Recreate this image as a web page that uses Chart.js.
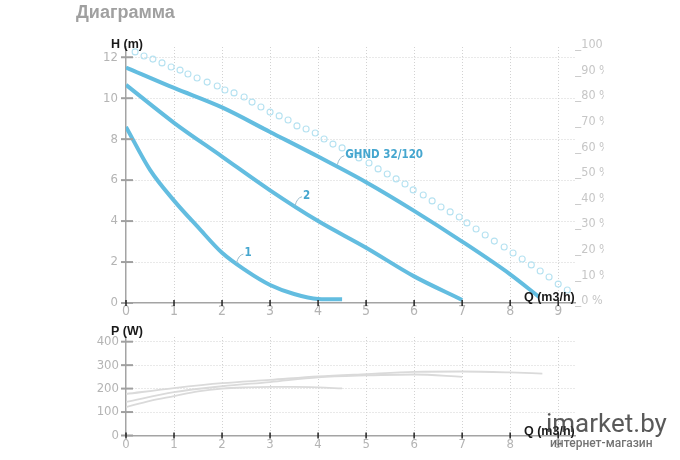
<!DOCTYPE html>
<html><head><meta charset="utf-8">
<script src="https://cdn.jsdelivr.net/npm/chart.js@4/dist/chart.umd.min.js"></script>
<style>
html,body{margin:0;padding:0;background:#fff;width:680px;height:460px;overflow:hidden;position:relative;}
#title{position:absolute;left:76px;top:2px;line-height:18px;font:bold 18px "Liberation Sans",Arial,sans-serif;color:#a0a0a0;white-space:nowrap;}
#c1{position:absolute;left:0;top:0;}
#c2{position:absolute;left:0;top:320px;}
#wm1{position:absolute;left:546px;top:408px;font:400 26px Roboto,sans-serif;color:rgba(60,60,60,0.85);white-space:nowrap;line-height:30px;}
#wm2{position:absolute;left:550px;top:436px;font:500 12px Roboto,sans-serif;color:rgba(80,80,80,0.8);white-space:nowrap;line-height:14px;}
</style></head><body>
<canvas id="c1" width="604" height="320"></canvas>
<canvas id="c2" width="604" height="140"></canvas>
<div id="title">Диаграмма</div>
<div id="wm1">imarket.by</div>
<div id="wm2">интернет-магазин</div>
<script>
// ---- data ----
const qTicks = [0,1,2,3,4,5,6,7,8,9];
const hTicks = [0,2,4,6,8,10,12];
const pctTicks = [0,10,20,30,40,50,60,70,80,90,100];
const pTicks = [0,100,200,300,400];

const flowQ3 = [0,1,2,3,4,5,6,7,8,8.6];
const head3  = [11.5,10.5,9.55,8.35,7.15,5.9,4.5,3.0,1.4,0.3];
const flowQ2 = [0,1,2,3,4,5,6,7];
const head2  = [10.65,8.8,7.15,5.5,4.0,2.7,1.3,0.15];
const flowQ1 = [0,0.5,1,1.5,2,2.5,3,3.5,4,4.5];
const head1  = [8.6,6.5,5.0,3.7,2.45,1.58,0.88,0.44,0.2,0.18];

const effQ   = [0.19,0.375,0.56,0.75,0.94,1.125,1.29,1.48,1.69,1.9,2.06,2.25,2.46,2.625,2.81,3.0,3.19,3.375,3.56,3.75,3.94,4.125,4.31,4.5,4.67,4.85,5.06,5.25,5.44,5.625,5.81,5.98,6.19,6.375,6.56,6.75,6.94,7.1,7.29,7.48,7.67,7.875,8.06,8.25,8.44,8.625,8.81,9.0,9.19];
const effPct = [97.3,95.7,94.5,93.0,91.4,90.2,88.7,87.1,85.5,84.0,82.4,81.3,79.7,77.7,75.8,73.8,72.3,70.7,68.4,67.2,65.6,63.3,61.3,59.8,57.8,55.9,53.9,51.6,49.6,47.7,45.7,43.4,41.4,39.1,36.7,34.8,32.8,30.5,28.1,25.8,23.4,21.1,18.75,16.4,14.1,11.7,9.4,6.6,4.3];

const powQ3 = [0,1,2,3,4,5,6,7,8,8.67];
const pow3  = [177,202,223,237,252,262,271,273,269,264];
const powQ2 = [0,1,2,3,4,5,6,7];
const pow2  = [143,185,210,228,248,256,260,250];
const powQ1 = [0,0.5,1,1.5,2,2.5,3,3.5,4,4.5];
const pow1  = [121,148,168,188,200,205,207,207,205,201];

const curveLabels = ['1','2','GHND 32/120'];
const labelQ = [2.3,3.52,4.4];
const labelH = [1.95,4.75,6.75];

const titleH = 'H (m)', titleQ = 'Q (m3/h)', titleP = 'P (W)';

// ---- styling ----
const NARROW = '"Liberation Sans Narrow","Arial Narrow","DejaVu Sans Condensed",sans-serif';
const SANS = '"Liberation Sans",Arial,sans-serif';
const LINE = '#63bde0';
const GRID = '#d2d2d2';
const AXIS = '#a4a4a4';
const TICKTXT = '#b4b4b4';

function pts(xs, ys){ return xs.map((x,i)=>({x:x, y:ys[i]})); }
function setTicks(list){ return s => { s.ticks = list.map(v=>({value:v})); }; }
function gridColor(ctx){ return (ctx.tick && ctx.tick.value===0) ? 'rgba(0,0,0,0)' : GRID; }

function drawTickMarks(chart, xs, ys){
  const {ctx, chartArea:a} = chart;
  ctx.save();
  ctx.strokeStyle = '#a0a0a0'; ctx.lineWidth = 2;
  ys.ticks.forEach(t=>{ const py = ys.getPixelForValue(t.value);
    ctx.beginPath(); ctx.moveTo(a.left-5, py); ctx.lineTo(a.left+7, py); ctx.stroke(); });
  ctx.strokeStyle = '#222'; ctx.lineWidth = 1.5;
  xs.ticks.forEach(t=>{ const px = xs.getPixelForValue(t.value);
    ctx.beginPath(); ctx.moveTo(px, a.bottom-3); ctx.lineTo(px, a.bottom+3); ctx.stroke(); });
  ctx.restore();
}

const decoTop = {
  id:'decoTop',
  afterDraw(chart){
    const {ctx, scales} = chart;
    drawTickMarks(chart, scales.x, scales.y);
    ctx.save();
    curveLabels.forEach((txt,i)=>{
      const px = scales.x.getPixelForValue(labelQ[i]);
      const py = scales.y.getPixelForValue(labelH[i]);
      ctx.strokeStyle = '#9dbccb'; ctx.lineWidth = 1;
      ctx.beginPath(); ctx.moveTo(px, py);
      ctx.quadraticCurveTo(px+2, py-8, px+7, py-9); ctx.stroke();
      ctx.fillStyle = '#45a6cf'; ctx.font = 'bold 11.5px '+NARROW;
      ctx.textAlign = 'left'; ctx.textBaseline = 'middle';
      ctx.fillText(txt, px+8, py-10);
    });
    ctx.fillStyle = '#1a1a1a'; ctx.font = 'bold 12.5px '+SANS;
    ctx.textAlign = 'left'; ctx.textBaseline = 'alphabetic';
    ctx.fillText(titleH, 111, 47.5);
    ctx.fillText(titleQ, 524, 301);
    ctx.restore();
  }
};

const decoBottom = {
  id:'decoBottom',
  afterDraw(chart){
    const {ctx, scales} = chart;
    drawTickMarks(chart, scales.x, scales.y);
    ctx.save();
    ctx.fillStyle = '#1a1a1a'; ctx.font = 'bold 12.5px '+SANS;
    ctx.textAlign = 'left'; ctx.textBaseline = 'alphabetic';
    ctx.fillText(titleP, 111, 14.5);
    ctx.fillText(titleQ, 524, 114.5);
    ctx.restore();
  }
};

const mainLine = (data) => ({data, borderColor:LINE, borderWidth:4, pointRadius:0, tension:0.4,
  cubicInterpolationMode:'monotone', fill:false, yAxisID:'y', borderCapStyle:'butt'});
const powLine = (data) => ({data, borderColor:'#dadada', borderWidth:1.8, pointRadius:0, tension:0.4,
  cubicInterpolationMode:'monotone', fill:false});

new Chart(document.getElementById('c1'), {
  type:'line',
  data:{datasets:[
    mainLine(pts(flowQ3, head3)),
    mainLine(pts(flowQ2, head2)),
    mainLine(pts(flowQ1, head1)),
    {data:pts(effQ, effPct), yAxisID:'y1', showLine:false, pointRadius:3, pointBorderWidth:1.1,
     pointBorderColor:'#b6e2f1', pointBackgroundColor:'rgba(255,255,255,0)', borderColor:'#b6e2f1'}
  ]},
  options:{
    responsive:false, animation:false, events:[],
    layout:{padding:{top:47, left:0, right:0, bottom:0}},
    plugins:{legend:{display:false}, tooltip:{enabled:false}},
    scales:{
      x:{type:'linear', min:0, max:9.35, afterBuildTicks:setTicks(qTicks), afterFit:s=>{s.height=17;},
         grid:{color:gridColor, drawTicks:false, lineWidth:1},
         border:{display:true, color:AXIS, width:1.5, dash:[1,2]},
         ticks:{padding:0, color:TICKTXT, font:{family:NARROW, size:14}, maxRotation:0, autoSkip:false}},
      y:{type:'linear', position:'left', min:0, max:12.5, afterBuildTicks:setTicks(hTicks), afterFit:s=>{s.width=126;},
         grid:{color:gridColor, drawTicks:false, lineWidth:1},
         border:{display:true, color:AXIS, width:1.5, dash:[1,2]},
         ticks:{padding:8, color:TICKTXT, font:{family:NARROW, size:13}}},
      y1:{type:'linear', position:'right', min:-0.78, max:99.22, afterBuildTicks:setTicks(pctTicks), afterFit:s=>{s.width=29;},
         grid:{display:false, drawOnChartArea:false, drawTicks:false},
         border:{display:false},
         ticks:{padding:-5, color:'#c6c6c6', font:{family:NARROW, size:12.5}, callback:v=>'__'+v+' %'}}
    }
  },
  plugins:[decoTop]
});

new Chart(document.getElementById('c2'), {
  type:'line',
  data:{datasets:[
    powLine(pts(powQ3, pow3)),
    powLine(pts(powQ2, pow2)),
    powLine(pts(powQ1, pow1))
  ]},
  options:{
    responsive:false, animation:false, events:[],
    layout:{padding:{top:17, left:0, right:29, bottom:0}},
    plugins:{legend:{display:false}, tooltip:{enabled:false}},
    scales:{
      x:{type:'linear', min:0, max:9.35, afterBuildTicks:setTicks(qTicks), afterFit:s=>{s.height=24.5;},
         grid:{color:gridColor, drawTicks:false, lineWidth:1},
         border:{display:true, color:AXIS, width:1.5, dash:[1,2]},
         ticks:{padding:1, color:TICKTXT, font:{family:NARROW, size:13}, maxRotation:0, autoSkip:false}},
      y:{type:'linear', position:'left', min:0, max:420, afterBuildTicks:setTicks(pTicks), afterFit:s=>{s.width=126;},
         grid:{color:gridColor, drawTicks:false, lineWidth:1},
         border:{display:true, color:AXIS, width:1.5, dash:[1,2]},
         ticks:{padding:7, color:TICKTXT, font:{family:NARROW, size:13}}}
    }
  },
  plugins:[decoBottom]
});
</script>
</body></html>
